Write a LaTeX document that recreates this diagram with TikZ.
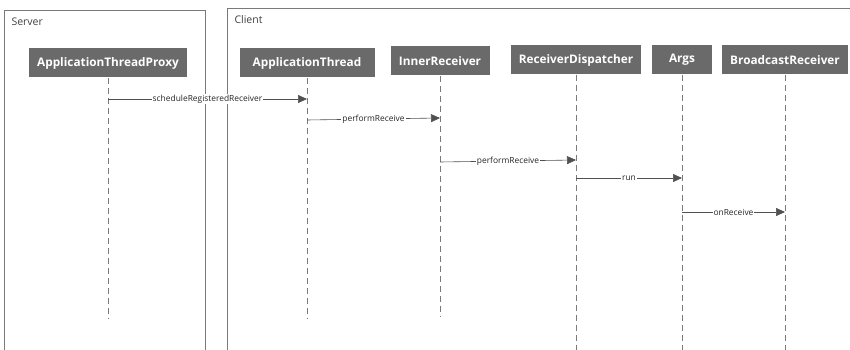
\documentclass[tikz,border=0pt]{standalone}
\usepackage{fontspec}
\setmainfont{Open Sans}
\usetikzlibrary{arrows.meta,positioning}

\definecolor{boxgray}{HTML}{6A6A6A}
\definecolor{linegray}{HTML}{7A7A7A}
\definecolor{arrowgray}{HTML}{505050}

\tikzset{
  actor/.style={fill=boxgray, text=white, font=\bfseries\fontsize{11.8}{13}\selectfont,
    minimum height=29pt, inner xsep=8pt},
  lifeline/.style={draw=linegray, dash pattern=on 6pt off 4pt, line width=0.6pt},
  frame/.style={draw=linegray, line width=0.8pt},
  msg/.style={draw=arrowgray, line width=0.6pt, -{Triangle[length=9pt,width=8pt]}},
  msglabel/.style={fill=white, inner sep=1pt, font=\fontsize{8.4}{10}\selectfont, text=black!85},
  title/.style={anchor=west, font=\fontsize{10.5}{12}\selectfont, text=black!75}
}

\begin{document}
\begin{tikzpicture}[x=1pt, y=-1pt]
    \useasboundingbox (0,0) rectangle (850,350);
    % frames
    \draw[frame] (4,350) -- (4,10) -- (205,10) -- (205,350);
    \draw[frame] (227,350) -- (227,8) -- (850,8);
    \node[title] (server) at (8,22) {Server};
    \node[title] (client) at (231,20) {Client};
    % actors
    \node[actor] (proxy) at (108,63) {ApplicationThreadProxy};
    \node[actor, minimum width=135pt] (appthread) at (307,63) {ApplicationThread};
    \node[actor, minimum width=99pt] (inner) at (440,61) {InnerReceiver};
    \node[actor] (dispatcher) at (576,60) {ReceiverDispatcher};
    \node[actor, minimum width=60pt] (args) at (682,60) {Args};
    \node[actor, minimum width=122pt] (receiver) at (785,60) {BroadcastReceiver};
    % lifelines
    \coordinate (proxy end) at (proxy |- 0,318);
    \coordinate (appthread end) at (appthread |- 0,318);
    \coordinate (inner end) at (inner |- 0,317);
    \coordinate (dispatcher end) at (dispatcher |- 0,350);
    \coordinate (args end) at (args |- 0,350);
    \coordinate (receiver end) at (receiver |- 0,350);
    \foreach \who in {proxy,appthread,inner,dispatcher,args,receiver}
        \draw[lifeline] (\who.south) -- (\who\space end);
    % messages
    \coordinate (m1a) at (proxy |- 0,99);
    \coordinate (m1b) at (appthread |- 0,99);
    \coordinate (m2a) at (appthread |- 0,120);
    \coordinate (m2b) at (inner |- 0,118);
    \coordinate (m3a) at (inner |- 0,162);
    \coordinate (m3b) at (dispatcher |- 0,160);
    \coordinate (m4a) at (dispatcher |- 0,178);
    \coordinate (m4b) at (args |- 0,178);
    \coordinate (m5a) at (args |- 0,212);
    \coordinate (m5b) at (receiver |- 0,212);
    \draw[msg] (m1a) -- node[msglabel] {scheduleRegisteredReceiver} (m1b);
    \draw[msg] (m2a) -- node[msglabel] {performReceive} (m2b);
    \draw[msg] (m3a) -- node[msglabel] {performReceive} (m3b);
    \draw[msg] (m4a) -- node[msglabel] {run} (m4b);
    \draw[msg] (m5a) -- node[msglabel] {onReceive} (m5b);
\end{tikzpicture}
\end{document}
